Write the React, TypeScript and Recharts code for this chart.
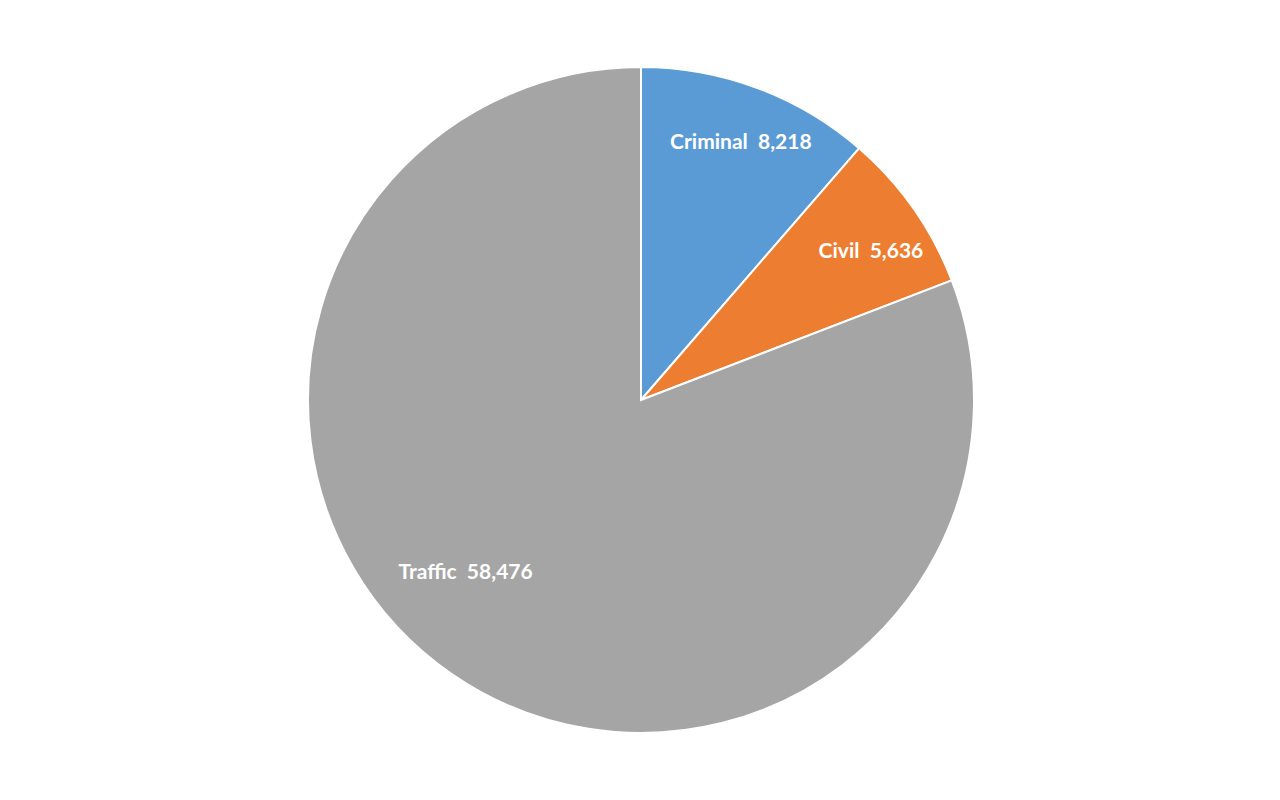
import { PieChart, Pie, Cell } from 'recharts';

const categories = ['Criminal', 'Civil', 'Traffic'];
const caseCounts = [8218, 5636, 58476];
const sliceColors = ['#5B9BD5', '#ED7D31', '#A5A5A5'];

// label placement tweaks per slice (fraction of radius, angle shift in degrees)
const labelRadius = [0.835, 0.825, 0.735];
const labelShift = [-0.6, -1.9, -11.3];

const data = categories.map((name, i) => ({ name, value: caseCounts[i] }));

const RAD = Math.PI / 180;

function renderLabel(props: any) {
  const { cx, cy, midAngle, outerRadius, index, name, value } = props;
  const r = outerRadius * labelRadius[index];
  const a = (midAngle + labelShift[index]) * RAD;
  const x = cx + r * Math.cos(-a);
  const y = cy + r * Math.sin(-a);
  return (
    <text
      x={x}
      y={y}
      fill="#ffffff"
      textAnchor="middle"
      dominantBaseline="central"
      style={{ whiteSpace: 'pre', fontFamily: 'Lato, sans-serif', fontWeight: 700, fontSize: 21 }}
    >
      {`${name}  ${value.toLocaleString('en-US')}`}
    </text>
  );
}

export default function App() {
  return (
    <div style={{ position: 'absolute', left: 0, top: 0, width: 1280, height: 800, background: '#fff' }}>
      <PieChart width={1280} height={800} margin={{ top: 0, right: 0, bottom: 0, left: 0 }}>
        <Pie
          data={data}
          dataKey="value"
          nameKey="name"
          cx={641}
          cy={400}
          outerRadius={333}
          startAngle={90}
          endAngle={-270}
          stroke="#ffffff"
          strokeWidth={2}
          label={renderLabel}
          labelLine={false}
          isAnimationActive={false}
        >
          {data.map((d, i) => (
            <Cell key={d.name} fill={sliceColors[i]} />
          ))}
        </Pie>
      </PieChart>
    </div>
  );
}
